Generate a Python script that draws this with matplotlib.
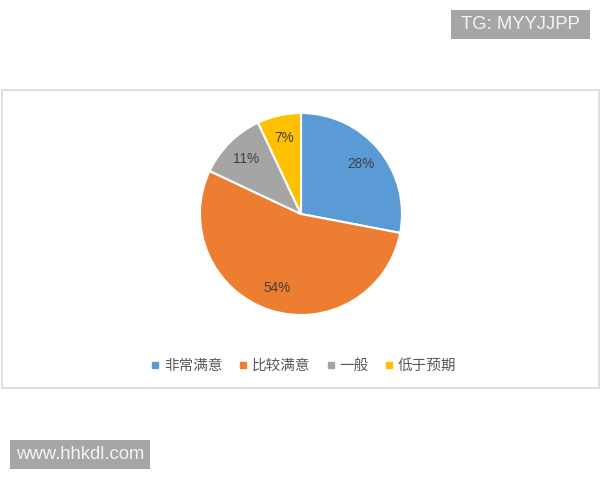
import matplotlib
matplotlib.use("Agg")
import matplotlib.pyplot as plt
from matplotlib.patches import Rectangle
from matplotlib.lines import Line2D

plt.rcParams["font.family"] = ["Noto Sans CJK SC", "DejaVu Sans"]

# data
categories = ["非常满意", "比较满意", "一般", "低于预期"]
shares = [28, 54, 11, 7]
colors = ["#5B9BD5", "#ED7D31", "#A5A5A5", "#FFC000"]

W, H = 600, 480
fig = plt.figure(figsize=(W / 100, H / 100), dpi=100)
fig.patch.set_facecolor("white")


def px_box(x0, y0, x1, y1):
    # pixel box (top-left origin) -> figure fraction rect
    return (x0 / W, 1 - y1 / H, (x1 - x0) / W, (y1 - y0) / H)


# chart frame (behind the axes)
fx, fy, fw, fh = px_box(2, 90, 599, 388)
fig.patches.append(Rectangle((fx, fy), fw, fh, transform=fig.transFigure,
                             facecolor="white", edgecolor="#d9d9d9",
                             linewidth=1.2, zorder=-5))

# pie
cx, cy, r = 301, 214, 101
ax = fig.add_axes(px_box(cx - r, cy - r, cx + r, cy + r))
ax.set_zorder(2)
ax.patch.set_visible(False)
wedges, texts = ax.pie(
    shares,
    colors=colors,
    startangle=90,
    counterclock=False,
    labels=[f"{v}%" for v in shares],
    labeldistance=0.77,
    wedgeprops=dict(edgecolor="white", linewidth=1.5),
    textprops=dict(color="#404040", fontsize=9.8, family="Liberation Sans",
                   ha="center", va="center"),
)
ax.set_xlim(-1, 1)
ax.set_ylim(-1, 1)
ax.set_aspect("equal")
ax.axis("off")

# legend
handles = [Line2D([], [], linestyle="none", marker="s", markersize=4,
                  markerfacecolor=c, markeredgecolor=c) for c in colors]
leg = fig.legend(handles, categories, loc="center", ncol=4,
                 bbox_to_anchor=(304 / W, 1 - 366 / H), frameon=False,
                 fontsize=10.5, labelcolor="#595959", handlelength=0.5,
                 handletextpad=0.35, columnspacing=1.15)
leg.set_zorder(3)

# watermarks
for text, (x0, y0, x1, y1) in [("TG: MYYJJPP", (451, 10, 590, 39)),
                               ("www.hhkdl.com", (10, 440, 150, 469))]:
    bx, by, bw, bh = px_box(x0, y0, x1, y1)
    fig.patches.append(Rectangle((bx, by), bw, bh, transform=fig.transFigure,
                                 facecolor="#a6a6a6", edgecolor="none"))
    fig.text(bx + bw / 2, by + bh / 2, text, ha="center", va="center",
             color="#f4f4f4", fontsize=13.3, family="Liberation Sans")

fig.savefig("out.png", dpi=100)
